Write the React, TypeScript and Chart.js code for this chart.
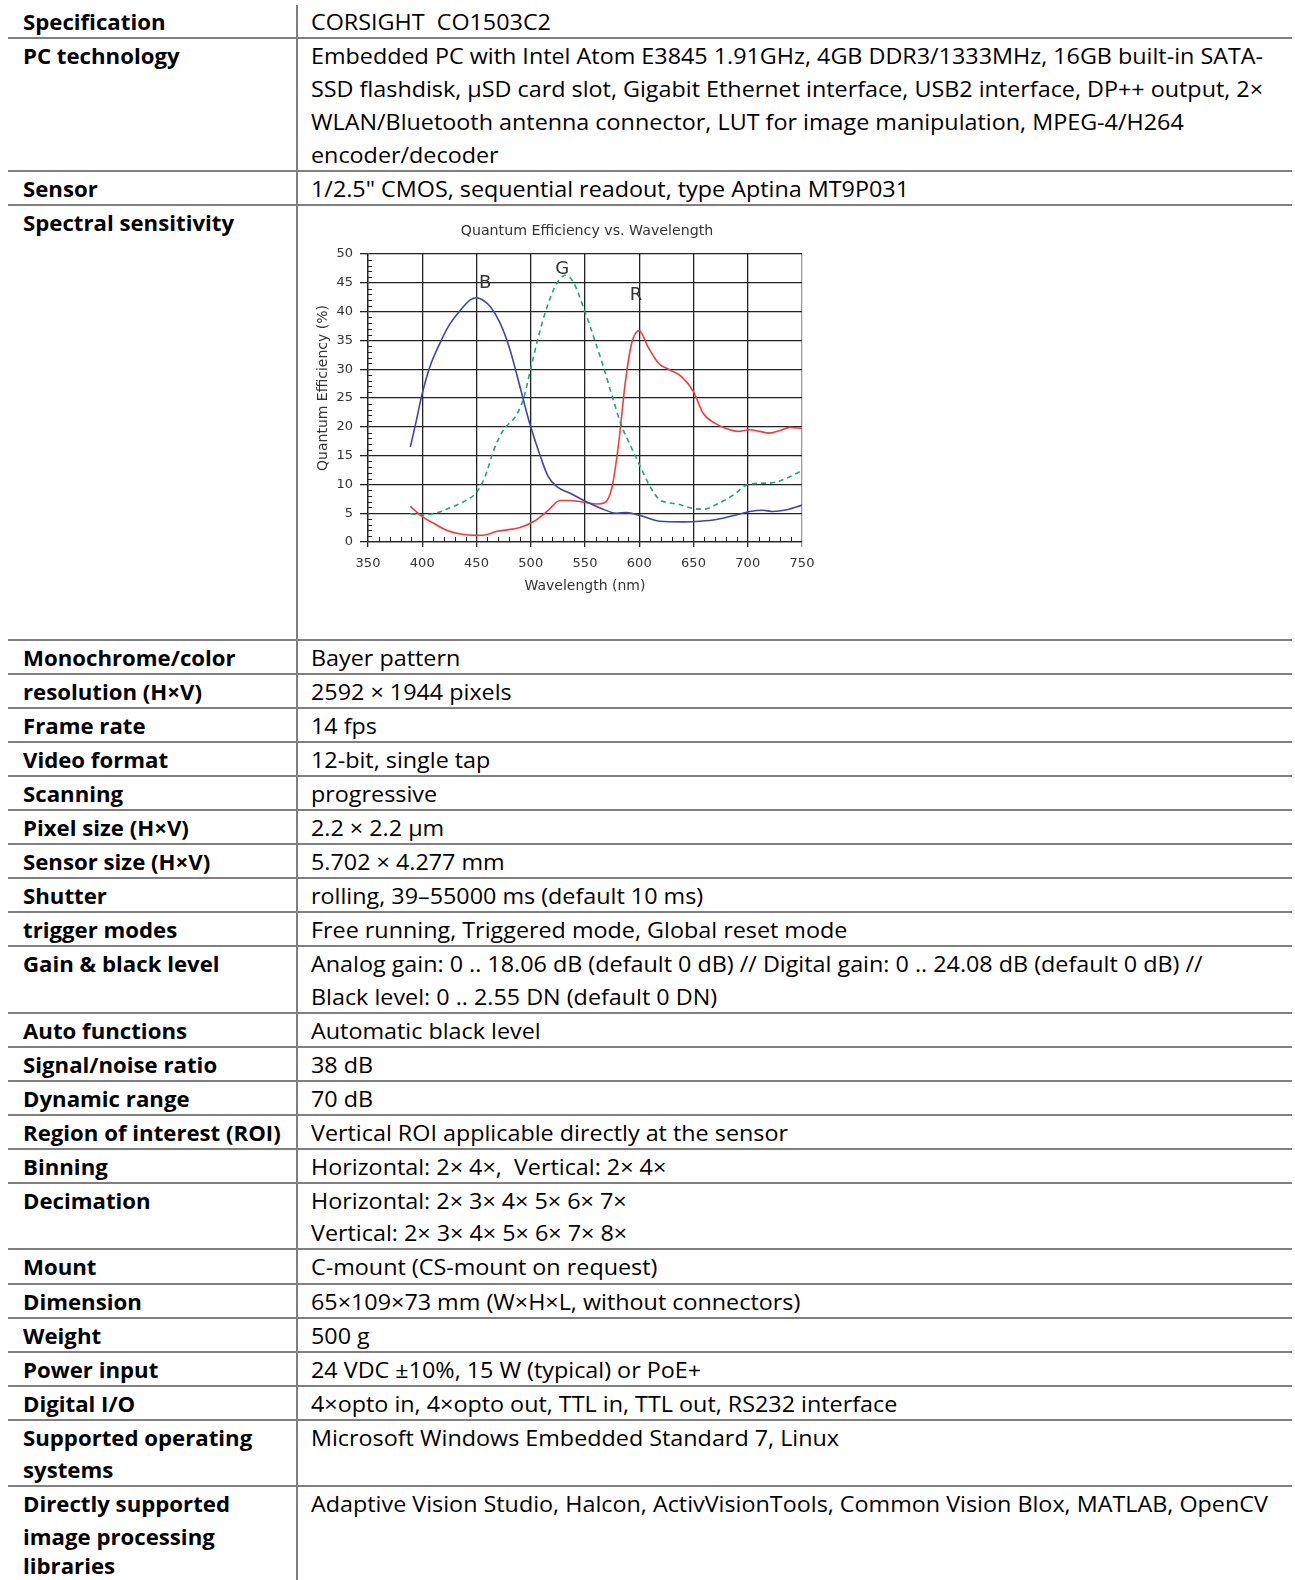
import React, { useEffect, useRef } from "react";
import { Chart, registerables } from "chart.js";

Chart.register(...registerables);

// ---------- chart data ----------
const blueNm = [389, 394, 400, 407, 417, 424, 435, 444, 450, 455, 463, 472, 481, 490, 499, 509, 516, 524, 536, 549, 564, 579, 588, 601, 619, 641, 656, 671, 687, 702, 714, 723, 736, 750];
const blueQe = [16.5, 20.6, 25.8, 30.4, 34.8, 37.4, 40.2, 42.0, 42.4, 42.1, 40.8, 37.9, 33.3, 27.0, 20.6, 14.8, 11.4, 9.6, 8.5, 7.2, 5.9, 5.0, 5.1, 4.6, 3.6, 3.5, 3.6, 3.9, 4.6, 5.3, 5.5, 5.3, 5.6, 6.4];

const greenNm = [389, 401, 414, 429, 441, 450, 458, 466, 475, 486, 493, 499, 507, 515, 524, 532, 539, 549, 558, 567, 576, 584, 591, 601, 610, 619, 625, 637, 650, 660, 671, 687, 699, 711, 723, 736, 750];
const greenQe = [4.9, 4.7, 5.1, 6.2, 7.3, 8.6, 11.4, 16.0, 19.5, 21.8, 24.7, 29.3, 35.6, 40.8, 44.9, 46.3, 45.2, 40.5, 35.6, 30.4, 24.7, 20.0, 17.1, 13.1, 9.6, 7.3, 6.9, 6.5, 5.8, 5.7, 6.5, 8.2, 9.9, 10.2, 10.3, 11.1, 12.4];

const redNm = [389, 400, 410, 423, 435, 450, 460, 469, 478, 490, 503, 515, 527, 536, 549, 561, 568, 575, 581, 587, 593, 600, 608, 618, 628, 639, 650, 659, 670, 680, 691, 702, 711, 720, 729, 739, 750];
const redQe = [6.2, 4.4, 3.3, 2.0, 1.4, 1.15, 1.3, 1.85, 2.1, 2.5, 3.6, 5.3, 7.2, 7.2, 6.9, 6.6, 6.8, 9.6, 17.1, 27.5, 34.5, 36.7, 33.9, 31.0, 29.9, 28.7, 26.1, 22.3, 20.6, 19.7, 19.2, 19.5, 19.2, 18.9, 19.3, 19.9, 19.7];

const curveLabels = ["B", "G", "R"];
const curveLabelNm = [458, 529, 597];
const curveLabelQe = [44.9, 47.3, 42.8];

const chartTitle = "Quantum Efficiency vs. Wavelength";
const xTitle = "Wavelength (nm)";
const yTitle = "Quantum Efficiency (%)";

// ---------- table content ----------
type Row = { label: string[]; value: string[]; h: number; lh?: number };
const S1 = 34.15;
const S = 34.05;
const D = 66.5;
const rows: Row[] = [
  { label: ["Specification"], value: ["CORSIGHT  CO1503C2"], h: S1 },
  {
    label: ["PC technology"],
    value: [
      "Embedded PC with Intel Atom E3845 1.91GHz, 4GB DDR3/1333MHz, 16GB built-in SATA-",
      "SSD flashdisk, µSD card slot, Gigabit Ethernet interface, USB2 interface, DP++ output, 2×",
      "WLAN/Bluetooth antenna connector, LUT for image manipulation, MPEG-4/H264",
      "encoder/decoder",
    ],
    h: 133,
    lh: 32.9,
  },
  { label: ["Sensor"], value: ["1/2.5\" CMOS, sequential readout, type Aptina MT9P031"], h: S1 },
  { label: ["Spectral sensitivity"], value: [], h: 434.4 },
  { label: ["Monochrome/color"], value: ["Bayer pattern"], h: S },
  { label: ["resolution (H×V)"], value: ["2592 × 1944 pixels"], h: S },
  { label: ["Frame rate"], value: ["14 fps"], h: S },
  { label: ["Video format"], value: ["12-bit, single tap"], h: S },
  { label: ["Scanning"], value: ["progressive"], h: S },
  { label: ["Pixel size (H×V)"], value: ["2.2 × 2.2 µm"], h: S },
  { label: ["Sensor size (H×V)"], value: ["5.702 × 4.277 mm"], h: S },
  { label: ["Shutter"], value: ["rolling, 39–55000 ms (default 10 ms)"], h: S },
  { label: ["trigger modes"], value: ["Free running, Triggered mode, Global reset mode"], h: S },
  {
    label: ["Gain & black level"],
    value: [
      "Analog gain: 0 .. 18.06 dB (default 0 dB) // Digital gain: 0 .. 24.08 dB (default 0 dB) //",
      "Black level: 0 .. 2.55 DN (default 0 DN)",
    ],
    h: D,
  },
  { label: ["Auto functions"], value: ["Automatic black level"], h: S },
  { label: ["Signal/noise ratio"], value: ["38 dB"], h: S },
  { label: ["Dynamic range"], value: ["70 dB"], h: S },
  { label: ["Region of interest (ROI)"], value: ["Vertical ROI applicable directly at the sensor"], h: S },
  { label: ["Binning"], value: ["Horizontal: 2× 4×,  Vertical: 2× 4×"], h: S },
  { label: ["Decimation"], value: ["Horizontal: 2× 3× 4× 5× 6× 7×", "Vertical: 2× 3× 4× 5× 6× 7× 8×"], h: D },
  { label: ["Mount"], value: ["C-mount (CS-mount on request)"], h: S },
  { label: ["Dimension"], value: ["65×109×73 mm (W×H×L, without connectors)"], h: S },
  { label: ["Weight"], value: ["500 g"], h: S },
  { label: ["Power input"], value: ["24 VDC ±10%, 15 W (typical) or PoE+"], h: S },
  { label: ["Digital I/O"], value: ["4×opto in, 4×opto out, TTL in, TTL out, RS232 interface"], h: S },
  { label: ["Supported operating", "systems"], value: ["Microsoft Windows Embedded Standard 7, Linux"], h: D },
  {
    label: ["Directly supported", "image processing", "libraries"],
    value: ["Adaptive Vision Studio, Halcon, ActivVisionTools, Common Vision Blox, MATLAB, OpenCV"],
    h: 93,
  },
];

const LINE = "#808080";
const STRETCH_REG = 1.111;
const STRETCH_BOLD = 1.057;
const CHART_FONT = '"DejaVu Sans", sans-serif';

const toPoints = (xs: number[], ys: number[]) => xs.map((x, i) => ({ x, y: ys[i] }));

const extrasPlugin = {
  id: "extras",
  afterDraw(chart: any) {
    const { ctx, chartArea, scales } = chart;
    const x = scales.x;
    const y = scales.y;
    ctx.save();
    ctx.strokeStyle = "#222";
    ctx.lineWidth = 1;
    for (let v = 360; v < 750; v += 10) {
      if (v % 50 === 0) continue;
      const px = Math.round(x.getPixelForValue(v)) + 0.5;
      ctx.beginPath();
      ctx.moveTo(px, chartArea.bottom);
      ctx.lineTo(px, chartArea.bottom - 5);
      ctx.stroke();
    }
    for (let v = 1; v < 50; v += 1) {
      if (v % 5 === 0) continue;
      const py = Math.round(y.getPixelForValue(v)) + 0.5;
      ctx.beginPath();
      ctx.moveTo(chartArea.left, py);
      ctx.lineTo(chartArea.left + 4, py);
      ctx.stroke();
    }
    ctx.fillStyle = "#333";
    ctx.textAlign = "center";
    ctx.textBaseline = "middle";
    ctx.font = `18px ${CHART_FONT}`;
    curveLabels.forEach((t, i) => {
      ctx.fillText(t, x.getPixelForValue(curveLabelNm[i]), y.getPixelForValue(curveLabelQe[i]));
    });
    ctx.font = `14.2px ${CHART_FONT}`;
    ctx.fillText(chartTitle, 287, 21);
    ctx.font = `14px ${CHART_FONT}`;
    ctx.translate(23, chartArea.top + (chartArea.bottom - chartArea.top) / 2 - 10);
    ctx.rotate(-Math.PI / 2);
    ctx.fillText(yTitle, 0, 0);
    ctx.restore();
  },
};

function QeChart() {
  const ref = useRef<HTMLCanvasElement | null>(null);
  useEffect(() => {
    if (!ref.current) return;
    const chart = new Chart(ref.current, {
      type: "line",
      data: {
        datasets: [
          {
            label: "B",
            data: toPoints(blueNm, blueQe),
            borderColor: "#3f47a5",
            borderWidth: 1.6,
            pointRadius: 0,
            tension: 0.4,
            cubicInterpolationMode: "monotone",
          },
          {
            label: "G",
            data: toPoints(greenNm, greenQe),
            borderColor: "#1fa57c",
            borderWidth: 1.6,
            borderDash: [5, 4],
            pointRadius: 0,
            tension: 0.4,
            cubicInterpolationMode: "monotone",
          },
          {
            label: "R",
            data: toPoints(redNm, redQe),
            borderColor: "#f03e3e",
            borderWidth: 1.6,
            pointRadius: 0,
            tension: 0.4,
            cubicInterpolationMode: "monotone",
          },
        ],
      },
      options: {
        animation: false,
        responsive: false,
        devicePixelRatio: 1,
        layout: { padding: { left: 0, right: 72, top: 44, bottom: 0 } },
        plugins: {
          legend: { display: false },
          tooltip: { enabled: false },
          title: { display: false },
        },
        scales: {
          x: {
            type: "linear",
            min: 350,
            max: 750,
            afterFit: (s: any) => {
              s.height = 68;
            },
            ticks: {
              stepSize: 50,
              color: "#333",
              font: { family: CHART_FONT, size: 13 },
              padding: 9,
              maxRotation: 0,
            },
            grid: {
              color: (c: any) => (c.tick && c.tick.value === 750 ? "#9a9a9a" : "#222"),
              lineWidth: 1.3,
              tickLength: 5,
            },
            border: { color: "#222", width: 1.3 },
            title: {
              display: true,
              text: xTitle,
              color: "#333",
              font: { family: CHART_FONT, size: 14 },
              padding: { top: 0, bottom: 15.6 },
            },
          },
          y: {
            type: "linear",
            min: 0,
            max: 50,
            afterFit: (s: any) => {
              s.width = 68;
            },
            ticks: {
              stepSize: 5,
              color: "#333",
              font: { family: CHART_FONT, size: 13 },
              padding: 7,
            },
            grid: { color: "#222", lineWidth: 1.3, tickLength: 8 },
            border: { color: "#222", width: 1.3 },
          },
        },
      },
      plugins: [extrasPlugin],
    } as any);
    return () => chart.destroy();
  }, []);
  return <canvas ref={ref} width={574} height={400} style={{ display: "block" }} />;
}

const spanStyle = (k: number): React.CSSProperties => ({
  display: "inline-block",
  transform: `scaleX(${k})`,
  transformOrigin: "left center",
  whiteSpace: "pre",
});

export default function App() {
  return (
    <div
      style={{
        position: "absolute",
        left: 0,
        top: 0,
        width: 1295,
        height: 1580,
        overflow: "hidden",
        background: "#fff",
        fontFamily: '"Open Sans", sans-serif',
        fontSize: 21,
        color: "#000",
      }}
    >
      <div style={{ position: "absolute", left: 8, top: 5.15, width: 1284 }}>
        {rows.map((r, i) => {
          const lh = r.lh || 32.3;
          const last = i === rows.length - 1;
          return (
            <div
              key={i}
              style={{
                height: r.h,
                boxSizing: "border-box",
                borderBottom: !last ? `2px solid ${LINE}` : "none",
                display: "flex",
              }}
            >
              <div style={{ width: 288, paddingLeft: 15.2, paddingTop: 1, lineHeight: `${lh}px`, fontWeight: 700, boxSizing: "border-box" }}>
                {r.label.map((l, j) => {
                  const tight = last && j === r.label.length - 1;
                  return (
                    <div key={j} style={tight ? { lineHeight: "20px", paddingTop: (lh - 20) / 2 - 3 } : undefined}>
                      <span style={spanStyle(STRETCH_BOLD)}>{l}</span>
                    </div>
                  );
                })}
              </div>
              <div style={{ paddingLeft: 15.4, paddingTop: 1, lineHeight: `${lh}px` }}>
                {r.value.map((v, j) => (
                  <div key={j}>
                    <span style={spanStyle(STRETCH_REG)}>{v}</span>
                  </div>
                ))}
              </div>
            </div>
          );
        })}
      </div>
      <div style={{ position: "absolute", left: 295.7, top: 5, width: 2, height: 1575, background: LINE }} />
      <div style={{ position: "absolute", left: 300, top: 210 }}>
        <QeChart />
      </div>
    </div>
  );
}
